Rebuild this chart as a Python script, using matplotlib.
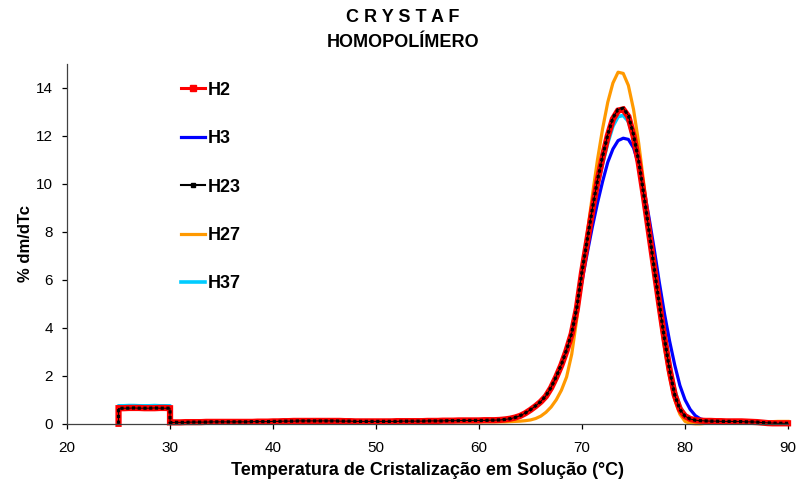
import numpy as np
import matplotlib
matplotlib.use("Agg")
import matplotlib.pyplot as plt
from matplotlib.lines import Line2D

plt.rcParams.update({
    "font.family": ["Liberation Sans", "DejaVu Sans"],
    "font.size": 11,
    "axes.linewidth": 0.9,
})

# temperature grid (deg C): step section 25-30, then main scan 30-90
temp_step = [25.0, 25.0, 25.5, 26.0, 26.5, 27.0, 27.5, 28.0, 28.5, 29.0, 29.5, 30.0]
temp_main = np.arange(30.0, 90.01, 0.5)

h2_step = [0.0, 0.65, 0.65, 0.66, 0.66, 0.66, 0.65, 0.65, 0.65, 0.66, 0.66, 0.65]
h23_step = [0.0, 0.64, 0.65, 0.65, 0.66, 0.65, 0.65, 0.65, 0.66, 0.65, 0.65, 0.65]
h37_step = [0.0, 0.75, 0.75, 0.76, 0.76, 0.75, 0.75, 0.75, 0.76, 0.75, 0.75, 0.75]

h2_main = [
    0.06, 0.06, 0.06, 0.07, 0.07, 0.07, 0.07, 0.08, 0.08, 0.08,
    0.08, 0.08, 0.08, 0.08, 0.08, 0.08, 0.08, 0.09, 0.09, 0.09,
    0.10, 0.10, 0.11, 0.11, 0.12, 0.12, 0.12, 0.12, 0.12, 0.12,
    0.12, 0.12, 0.12, 0.12, 0.11, 0.11, 0.10, 0.10, 0.10, 0.10,
    0.10, 0.10, 0.10, 0.10, 0.11, 0.11, 0.11, 0.11, 0.11, 0.11,
    0.12, 0.12, 0.12, 0.13, 0.13, 0.13, 0.14, 0.14, 0.14, 0.14,
    0.14, 0.15, 0.15, 0.15, 0.16, 0.18, 0.21, 0.26, 0.33, 0.44,
    0.58, 0.74, 0.92, 1.15, 1.50, 1.95, 2.45, 3.05, 3.75, 4.80,
    6.30, 7.60, 8.90, 10.10, 11.10, 12.00, 12.70, 13.05, 13.10, 12.80,
    12.00, 10.90, 9.50, 8.00, 6.50, 5.00, 3.55, 2.25, 1.20, 0.60,
    0.32, 0.20, 0.15, 0.13, 0.12, 0.12, 0.11, 0.11, 0.10, 0.10,
    0.10, 0.10, 0.09, 0.08, 0.07, 0.05, 0.03, 0.02, 0.02, 0.02,
    0.02,
]
h23_main = [
    0.05, 0.06, 0.06, 0.06, 0.07, 0.07, 0.07, 0.07, 0.08, 0.08,
    0.08, 0.08, 0.08, 0.08, 0.08, 0.08, 0.09, 0.09, 0.09, 0.09,
    0.10, 0.10, 0.11, 0.11, 0.11, 0.12, 0.12, 0.12, 0.12, 0.12,
    0.12, 0.12, 0.12, 0.11, 0.11, 0.11, 0.10, 0.10, 0.10, 0.10,
    0.10, 0.10, 0.10, 0.10, 0.10, 0.11, 0.11, 0.11, 0.11, 0.11,
    0.12, 0.12, 0.12, 0.12, 0.13, 0.13, 0.13, 0.14, 0.14, 0.14,
    0.14, 0.14, 0.15, 0.15, 0.16, 0.18, 0.21, 0.26, 0.34, 0.45,
    0.59, 0.75, 0.93, 1.17, 1.52, 1.97, 2.47, 3.08, 3.78, 4.85,
    6.35, 7.65, 8.95, 10.15, 11.15, 12.05, 12.75, 13.10, 13.15, 12.85,
    12.05, 10.95, 9.55, 8.05, 6.50, 5.00, 3.55, 2.25, 1.20, 0.60,
    0.32, 0.20, 0.15, 0.13, 0.12, 0.11, 0.11, 0.10, 0.10, 0.10,
    0.09, 0.09, 0.08, 0.08, 0.07, 0.05, 0.04, 0.03, 0.02, 0.02,
    0.02,
]
h37_main = [
    0.06, 0.06, 0.06, 0.07, 0.07, 0.07, 0.08, 0.08, 0.08, 0.08,
    0.08, 0.08, 0.08, 0.08, 0.08, 0.09, 0.09, 0.09, 0.09, 0.09,
    0.10, 0.10, 0.11, 0.11, 0.12, 0.12, 0.12, 0.12, 0.12, 0.12,
    0.12, 0.12, 0.12, 0.12, 0.11, 0.11, 0.11, 0.10, 0.10, 0.10,
    0.10, 0.10, 0.10, 0.10, 0.11, 0.11, 0.11, 0.11, 0.11, 0.12,
    0.12, 0.12, 0.12, 0.13, 0.13, 0.13, 0.14, 0.14, 0.14, 0.14,
    0.14, 0.15, 0.15, 0.15, 0.16, 0.18, 0.21, 0.26, 0.33, 0.44,
    0.58, 0.73, 0.91, 1.14, 1.48, 1.92, 2.42, 3.02, 3.72, 4.75,
    6.20, 7.50, 8.75, 9.90, 10.85, 11.70, 12.40, 12.80, 12.85, 12.60,
    11.90, 10.90, 9.60, 8.20, 6.70, 5.20, 3.80, 2.50, 1.40, 0.72,
    0.36, 0.22, 0.16, 0.13, 0.12, 0.12, 0.11, 0.11, 0.10, 0.10,
    0.10, 0.09, 0.09, 0.08, 0.07, 0.05, 0.04, 0.03, 0.02, 0.02,
    0.02,
]
h3_main = [
    0.05, 0.05, 0.06, 0.06, 0.06, 0.07, 0.07, 0.07, 0.07, 0.08,
    0.08, 0.08, 0.08, 0.08, 0.08, 0.08, 0.08, 0.08, 0.09, 0.09,
    0.09, 0.10, 0.10, 0.11, 0.11, 0.11, 0.12, 0.12, 0.12, 0.12,
    0.12, 0.12, 0.11, 0.11, 0.11, 0.10, 0.10, 0.10, 0.10, 0.10,
    0.10, 0.10, 0.10, 0.10, 0.10, 0.10, 0.11, 0.11, 0.11, 0.11,
    0.11, 0.12, 0.12, 0.12, 0.12, 0.13, 0.13, 0.13, 0.13, 0.13,
    0.13, 0.14, 0.14, 0.15, 0.16, 0.18, 0.21, 0.26, 0.33, 0.44,
    0.58, 0.74, 0.92, 1.15, 1.48, 1.92, 2.42, 3.00, 3.70, 4.70,
    5.95, 7.10, 8.20, 9.20, 10.10, 10.90, 11.45, 11.80, 11.90, 11.85,
    11.50, 10.80, 9.80, 8.60, 7.30, 5.90, 4.60, 3.45, 2.45, 1.60,
    1.00, 0.60, 0.34, 0.20, 0.15, 0.13, 0.12, 0.11, 0.11, 0.10,
    0.10, 0.09, 0.09, 0.08, 0.07, 0.06, 0.05, 0.04, 0.04, 0.04,
    0.04,
]
h27_main = [
    0.06, 0.06, 0.06, 0.06, 0.07, 0.07, 0.07, 0.07, 0.07, 0.08,
    0.08, 0.08, 0.08, 0.08, 0.08, 0.08, 0.08, 0.08, 0.08, 0.09,
    0.09, 0.09, 0.10, 0.10, 0.10, 0.11, 0.11, 0.11, 0.11, 0.11,
    0.11, 0.11, 0.11, 0.10, 0.10, 0.10, 0.10, 0.09, 0.09, 0.09,
    0.09, 0.09, 0.09, 0.09, 0.09, 0.09, 0.09, 0.09, 0.09, 0.09,
    0.09, 0.09, 0.09, 0.09, 0.09, 0.09, 0.08, 0.08, 0.08, 0.08,
    0.08, 0.08, 0.08, 0.08, 0.08, 0.08, 0.09, 0.10, 0.11, 0.13,
    0.16, 0.22, 0.32, 0.48, 0.70, 1.00, 1.40, 1.95, 2.90, 4.40,
    6.20, 7.90, 9.50, 11.00, 12.30, 13.40, 14.20, 14.65, 14.60, 14.10,
    13.10, 11.70, 10.00, 8.20, 6.40, 4.70, 3.20, 1.95, 1.00, 0.40,
    0.10, 0.02, 0.00, 0.00, 0.02, 0.03, 0.04, 0.05, 0.05, 0.06,
    0.06, 0.06, 0.07, 0.07, 0.08, 0.08, 0.09, 0.09, 0.10, 0.10,
    0.10,
]

RED, BLUE, BLACK, ORANGE, CYAN = "#ff0000", "#0000ff", "#000000", "#ff9900", "#00ccff"

t_full = np.r_[temp_step, temp_main]

fig = plt.figure(figsize=(7.98, 4.86), dpi=100)
ax = fig.add_axes([0.084, 0.128, 0.9035, 0.7407])

ax.plot(temp_main, h3_main, color=BLUE, lw=2.3, clip_on=False)
ax.plot(temp_main, h27_main, color=ORANGE, lw=2.3, clip_on=False)
ax.plot(t_full, np.r_[h37_step, h37_main], color=CYAN, lw=2.6, clip_on=False)
# H2: dense red square markers in the original read as a thick red band
ax.plot(t_full, np.r_[h2_step, h2_main], color=RED, lw=4.5, solid_joinstyle="miter",
        clip_on=False)
# H23: thin black line plus a chain of small black squares
h23_all = np.r_[h23_step, h23_main]
ax.plot(t_full, h23_all, color=BLACK, lw=0.7, clip_on=False)
ax.plot(t_full, h23_all, color=BLACK, lw=2.3, dashes=(1.0, 0.8), dash_capstyle="butt",
        clip_on=False)

ax.set_xlim(20, 90)
ax.set_ylim(0, 15)
ax.set_xticks(range(20, 91, 10))
ax.set_yticks(range(0, 15, 2))
ax.tick_params(axis="both", direction="out", length=3.5, width=0.9, labelsize=11)
ax.tick_params(axis="x", pad=9)
ax.tick_params(axis="y", pad=6.5)
for sp in ["top", "right"]:
    ax.spines[sp].set_visible(False)
ax.spines["left"].set_color("#404040")
ax.spines["bottom"].set_color("#404040")

ax.set_xlabel("Temperatura de Cristalização em Solução (°C)", fontsize=13, fontweight="bold", labelpad=5)
ax.set_ylabel("% dm/dTc", fontsize=12, fontweight="bold", labelpad=2)

handles = [
    Line2D([], [], color=RED, lw=2.2, marker="s", ms=4, mec=RED, mfc=RED),
    Line2D([], [], color=BLUE, lw=2.3),
    Line2D([], [], color=BLACK, lw=1.5, marker="s", ms=2.2, mec=BLACK, mfc=BLACK),
    Line2D([], [], color=ORANGE, lw=2.3),
    Line2D([], [], color=CYAN, lw=2.6),
]
labels = ["H2", "H3", "H23", "H27", "H37"]
ax.legend(handles, labels, loc="upper left", bbox_to_anchor=(0.158, 0.95),
          frameon=False, borderpad=0, borderaxespad=0, handlelength=1.33,
          handletextpad=0.17, labelspacing=1.74, prop={"weight": "bold", "size": 13})

fig.text(0.505, 0.963, "C R Y S T A F", ha="center", va="center", fontsize=13, fontweight="bold")
fig.text(0.505, 0.913, "HOMOPOLÍMERO", ha="center", va="center", fontsize=13, fontweight="bold")

fig.savefig("out.png", dpi=100)
